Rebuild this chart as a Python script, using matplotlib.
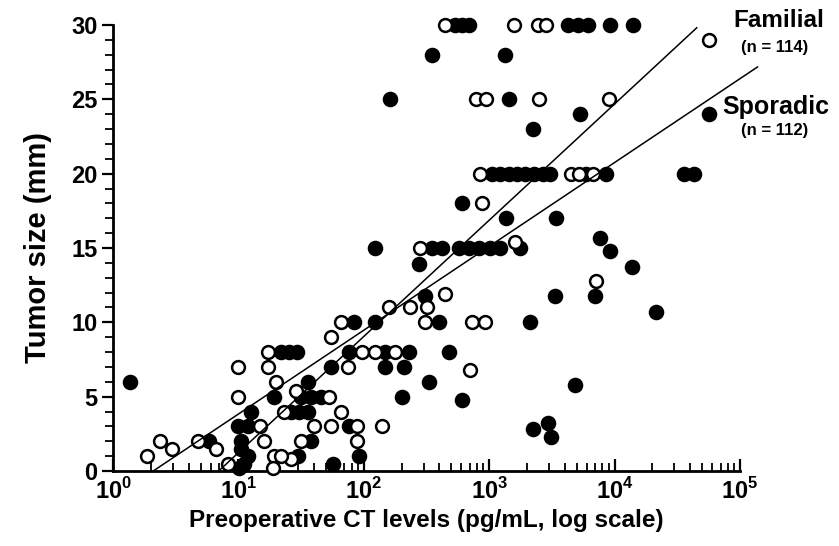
import matplotlib
matplotlib.use('Agg')
import matplotlib.pyplot as plt
import numpy as np

plt.rcParams['font.family'] = ['Liberation Sans', 'DejaVu Sans']
plt.rcParams['font.weight'] = 'bold'
plt.rcParams['mathtext.fontset'] = 'custom'
plt.rcParams['mathtext.rm'] = 'Liberation Sans:bold'
plt.rcParams['mathtext.bf'] = 'Liberation Sans:bold'

# familial MTC (open circles): preoperative CT (pg/mL) and tumor size (mm)
fam_ct = [445, 1590, 2440, 2830, 56400,
          789, 950, 2480, 9060,
          849, 4490, 5200, 6730,
          881, 1620, 280, 7110, 445,
          158, 233, 319,
          66, 308, 733, 933,
          55,
          17.2, 96, 122, 177,
          9.9, 17.2, 75, 707,
          19.9, 28.9, 9.9, 53,
          23, 66,
          15, 40, 55, 87.5, 139,
          2.38, 4.72, 16, 31.7, 87.5,
          2.98, 6.6,
          1.87, 19.2, 26.3, 21.9,
          8.2, 19]
fam_size = [30, 30, 30, 30, 29,
            25, 25, 25, 25,
            20, 20, 20, 20,
            18, 15.4, 15, 12.8, 11.9,
            11, 11, 11,
            10, 10, 10, 10,
            9,
            8, 8, 8, 8,
            7, 7, 7, 6.8,
            6, 5.4, 5, 5,
            4, 4,
            3, 3, 3, 3, 3,
            2, 2, 2, 2, 2,
            1.5, 1.5,
            1, 1, 0.8, 1,
            0.5, 0.2]

# sporadic MTC (filled circles)
spo_ct = [535, 610, 690, 4250, 5100, 6140, 9220, 14100,
          350, 1325,
          161, 1450,
          5300, 56400, 2220,
          1061, 1230, 1426, 1652, 1918, 2264, 2673, 3041, 5916, 8570, 35560, 42750,
          609, 1349, 3396, 7660,
          122, 350, 421, 577, 694, 834, 1023, 1230, 1746, 9220,
          275, 13840,
          308, 3334, 6984, 21580,
          83, 122, 398, 2100,
          21.9, 25.4, 29.4, 75.5, 147, 229, 479,
          55, 147, 209,
          1.37, 36, 331, 4830,
          19.2, 31.7, 38, 45.8, 201, 609,
          12.6, 26.3, 30.5, 36,
          9.9, 11.9, 75.5, 2220, 2930, 3100,
          5.8, 38, 10.4,
          10.4,
          30, 91, 11.9,
          57.3, 11,
          10.1]
spo_size = [30, 30, 30, 30, 30, 30, 30, 30,
            28, 28,
            25, 25,
            24, 24, 23,
            20, 20, 20, 20, 20, 20, 20, 20, 20, 20, 20, 20,
            18, 17, 17, 15.7,
            15, 15, 15, 15, 15, 15, 15, 15, 15, 14.8,
            13.9, 13.7,
            11.8, 11.8, 11.8, 10.7,
            10, 10, 10, 10,
            8, 8, 8, 8, 8, 8, 8,
            7, 7, 7,
            6, 6, 6, 5.8,
            5, 5, 5, 5, 5, 4.8,
            4, 4, 4, 4,
            3, 3, 3, 2.8, 3.2, 2.3,
            2, 2, 2,
            1.5,
            1, 1, 1,
            0.5, 0.5,
            0.2]

# regression lines: size = a + b*log10(CT), drawn over the range of the fit
fam_fit = (-6.59, 7.82, 6.97, 45200)
spo_fit = (-1.81, 5.64, 2.09, 138000)

fig = plt.figure(figsize=(8.39, 5.46), dpi=100)
ax = fig.add_axes([0.1347, 0.1374, 0.7473, 0.8168])

ax.scatter(spo_ct, spo_size, s=100, c='black', edgecolors='black', linewidths=1.2,
           clip_on=False, zorder=3)
ax.scatter(fam_ct, fam_size, s=85, facecolors='white', edgecolors='black', linewidths=1.8,
           clip_on=False, zorder=4)

for a, b, x0, x1 in (fam_fit, spo_fit):
    xs = np.array([x0, x1])
    ax.plot(xs, a + b * np.log10(xs), color='black', lw=1.1, clip_on=False, zorder=5)

ax.set_xscale('log')
ax.set_xlim(1, 1e5)
ax.set_ylim(0, 30)

for side in ('top', 'right'):
    ax.spines[side].set_visible(False)
ax.spines['left'].set_linewidth(2)
ax.spines['bottom'].set_linewidth(2)

ax.set_yticks([0, 5, 10, 15, 20, 25, 30])
ax.set_yticks(np.arange(0, 31, 1), minor=True)
ax.tick_params(axis='y', which='major', direction='out', length=8, width=1.6, labelsize=17, pad=3)
ax.tick_params(axis='y', which='minor', direction='out', length=6, width=1.3)

ax.set_xticks([1, 10, 100, 1e3, 1e4, 1e5])
ax.set_xticklabels([r'$10^{%d}$' % k for k in range(6)])
ax.tick_params(axis='x', which='major', direction='in', length=9, width=1.6, labelsize=17, pad=5)
ax.tick_params(axis='x', which='minor', direction='in', length=6, width=1.3)

ax.set_xlabel('Preoperative CT levels (pg/mL, log scale)', fontsize=17.5, fontweight='bold', labelpad=4)
ax.set_ylabel('Tumor size (mm)', fontsize=21, fontweight='bold', labelpad=14)

ax.text(8.9e4, 30.3, 'Familial', fontsize=17.5, fontweight='bold', va='center', ha='left', clip_on=False)
ax.text(1.02e5, 28.5, '(n = 114)', fontsize=12, fontweight='bold', va='center', ha='left', clip_on=False)
ax.text(7.2e4, 24.5, 'Sporadic', fontsize=18, fontweight='bold', va='center', ha='left', clip_on=False)
ax.text(1.02e5, 22.9, '(n = 112)', fontsize=12, fontweight='bold', va='center', ha='left', clip_on=False)

fig.savefig('out.png', dpi=100)
